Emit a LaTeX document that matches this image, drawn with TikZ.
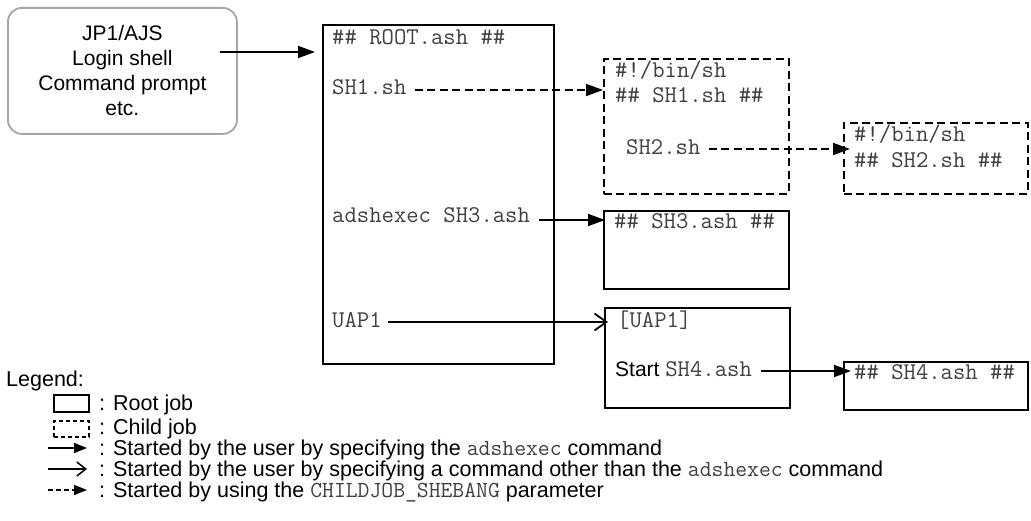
\documentclass[tikz,border=0pt]{standalone}
\usepackage{fontspec}
\setmainfont{Liberation Sans}
\usetikzlibrary{arrows.meta}
\newcommand\mt[1]{{\ttfamily\fontsize{23pt}{24pt}\selectfont\color{black!75}#1}}
\begin{document}
\begin{tikzpicture}[x=1pt,y=-1pt,
  box/.style={draw, line width=1.8pt, inner sep=0pt, anchor=north west},
  cbox/.style={box, dash pattern=on 8pt off 4.5pt},
  mono/.style={font=\ttfamily\fontsize{24pt}{25pt}\selectfont, text=black!75, inner sep=0pt, anchor=base west},
  sans/.style={font=\fontsize{21pt}{25pt}\selectfont, inner sep=0pt, anchor=base west},
  legtxt/.style={font=\fontsize{21.5pt}{24pt}\selectfont, inner sep=0pt, anchor=base west},
  sarr/.style={line width=1.8pt, -{Triangle[length=17pt,width=12pt]}},
  darr/.style={sarr, dash pattern=on 8pt off 4.5pt},
  oarr/.style={line width=1.8pt, -{Straight Barb[length=12pt,width=17pt,line width=1.8pt]}},
  lsarr/.style={line width=1.5pt, -{Triangle[length=13pt,width=10pt]}},
  ldarr/.style={lsarr, dash pattern=on 5pt off 3pt},
  loarr/.style={line width=1.5pt, -{Straight Barb[length=9pt,width=14pt,line width=1.5pt]}},
]
\useasboundingbox (0,0) rectangle (1031,521);

% source box
\node[draw=black!35, line width=1.8pt, rounded corners=14pt, minimum width=229pt, minimum height=126pt,
      align=center, inner sep=0pt, anchor=north west, font=\fontsize{21pt}{25pt}\selectfont] (jp) at (7,7)
      {JP1/AJS\\Login shell\\Command prompt\\etc.};

% job boxes
\node[box, minimum width=231pt, minimum height=339pt] (root) at (322,24) {};
\node[cbox, minimum width=185pt, minimum height=135pt] (sh1box) at (603,58) {};
\node[cbox, minimum width=184pt, minimum height=71pt] (sh2box) at (843,122) {};
\node[box, minimum width=185pt, minimum height=78pt] (sh3box) at (603,210) {};
\node[box, minimum width=185pt, minimum height=100pt] (uapbox) at (604,307) {};
\node[box, minimum width=184pt, minimum height=48pt] (sh4box) at (843,361) {};

% texts
\node[mono] (roott) at (332,45) {\#\# ROOT.ash \#\#};
\node[mono] (sh1t) at (332,95) {SH1.sh};
\node[mono] (sh3t) at (332,223) {adshexec SH3.ash};
\node[mono] (uapt) at (332,327) {UAP1};

\node[mono] (sh1a) at (615,78) {\#!/bin/sh};
\node[mono] (sh1b) at (615,103) {\#\# SH1.sh \#\#};
\node[mono] (sh2t) at (626,155) {SH2.sh};

\node[mono] (sh2a) at (854,142) {\#!/bin/sh};
\node[mono] (sh2b) at (854,168) {\#\# SH2.sh \#\#};

\node[mono] (sh3a) at (614,229) {\#\# SH3.ash \#\#};

\node[mono] (uapa) at (617,327) {[UAP1]};
\node[sans] (startt) at (615,377) {Start {\ttfamily\fontsize{24pt}{25pt}\selectfont\color{black!75}SH4.ash}};

\node[mono] (sh4a) at (854,379) {\#\# SH4.ash \#\#};

% connectors
\coordinate (jpout) at (220,52);
\draw[sarr, shorten >=7pt] (jpout) -- (jpout -| root.west);
\draw[darr] ([shift={(8,-5)}]sh1t.base east) coordinate (a1) -- (a1 -| sh1box.west);
\draw[darr, shorten >=-7pt] ([shift={(8,-6)}]sh2t.base east) coordinate (a2) -- (a2 -| sh2box.west);
\draw[sarr, shorten >=-2pt] ([shift={(9,-3)}]sh3t.base east) coordinate (a3) -- (a3 -| sh3box.west);
\draw[oarr, shorten >=-4pt] ([shift={(6,-5)}]uapt.base east) coordinate (a4) -- (a4 -| uapbox.west);
\draw[sarr, shorten >=-8pt] ([shift={(9,-6)}]startt.base east) coordinate (a5) -- (a5 -| sh4box.west);

% legend
\node[legtxt] (leg) at (6,386) {Legend:};
\node[box, line width=1.5pt, minimum width=35pt, minimum height=17pt] (lroot) at (53,394) {};
\node[legtxt] (l1) at (99,410) {: Root job};
\node[box, line width=1.5pt, dash pattern=on 4pt off 3pt, minimum width=35pt, minimum height=16pt] (lchild) at (53,420) {};
\node[legtxt] (l2) at (99,434) {: Child job};
\node[legtxt] (l3) at (99,455) {: Started by the user by specifying the \mt{adshexec} command};
\node[legtxt] (l4) at (99,476) {: Started by the user by specifying a command other than the \mt{adshexec} command};
\node[legtxt] (l5) at (99,497) {: Started by using the \mt{CHILDJOB\_SHEBANG} parameter};
\coordinate (g3) at (48,448);
\coordinate (g4) at (48,469);
\coordinate (g5) at (48,490);
\draw[lsarr] (g3) -- ++(39,0);
\draw[loarr] (g4) -- ++(39,0);
\draw[ldarr] (g5) -- ++(39,0);
\end{tikzpicture}
\end{document}
